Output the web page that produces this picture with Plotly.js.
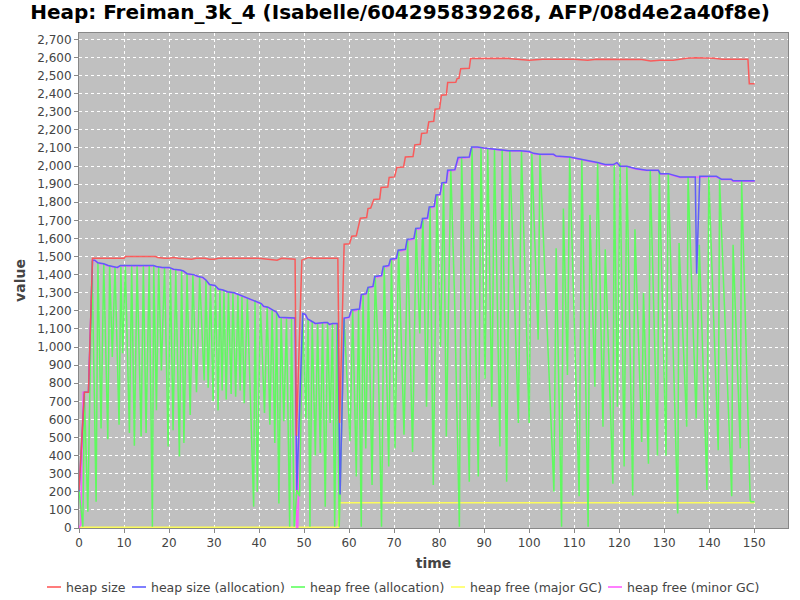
<!DOCTYPE html>
<html>
<head>
<meta charset="utf-8">
<script src="https://cdn.plot.ly/plotly-3.0.1.min.js"></script>
<style>html,body{margin:0;padding:0;background:#fff}#chart{width:800px;height:600px}</style>
</head>
<body>
<div id="chart"></div>
<script>
// ---- data ----
const seriesNames = ["heap size", "heap size (allocation)", "heap free (allocation)", "heap free (major GC)", "heap free (minor GC)"];

const redT = [0, 1.2, 2.1, 3.0, 10, 10.3, 17, 17.5, 19, 20, 21, 22, 25, 26, 28, 29, 30, 31, 32, 40, 42, 44, 45, 48.0, 48.3, 49.5, 50.5, 51, 52, 57.5, 57.9,
  58.9, 60.1, 60.6, 61.6, 62.5, 63.9, 64.2, 64.8, 65.5, 66.8, 67.1, 68.6, 68.9, 70.1, 70.6, 72.1, 72.5, 74.2, 74.6, 75.8, 76.1, 77.3, 77.7, 78.8, 79.1, 80.1, 80.5, 81.6, 81.9, 83.7, 84.0, 84.4, 84.8, 86.7, 87.0,
  95, 97, 100, 103, 110, 113, 115, 125, 127, 129, 132, 135, 137, 141, 143, 148.6, 148.9, 150.1];
const redV = [210, 750, 750, 1490, 1490, 1500, 1500, 1495, 1490, 1490, 1495, 1490, 1485, 1490, 1490, 1485, 1485, 1490, 1490, 1490, 1485, 1480, 1490, 1485, 510, 1480, 1490, 1495, 1490, 1490, 580,
  1568, 1570, 1612, 1615, 1712, 1715, 1765, 1768, 1815, 1818, 1881, 1884, 1937, 1940, 1992, 1995, 2050, 2053, 2117, 2120, 2180, 2183, 2244, 2247, 2314, 2317, 2391, 2394, 2461, 2463, 2483, 2485, 2538, 2540, 2594,
  2595, 2590, 2585, 2590, 2590, 2585, 2590, 2588, 2580, 2585, 2585, 2595, 2598, 2595, 2590, 2590, 2455, 2455];

const blueT = [0, 1.2, 2.1, 3.0, 3.5, 4.2, 5.5, 6.5, 7.5, 8.5, 9.2, 16.5, 17.2, 18.5, 20, 21, 22.5, 23.2, 24, 25.5, 26.5, 27.5, 28.2, 29, 30.2, 31, 32, 33, 34.5, 35.5, 36.5, 37.5, 38.5, 39.5, 40.5, 41, 42, 43, 43.8, 44.5, 48.0, 48.4, 49.7, 50.3, 50.8, 51.5, 52.5, 54.5, 55.2, 55.6, 56.3, 57.5, 58.0,
  58.9, 60.0, 60.5, 62.3, 62.7, 63.8, 64.2, 65.3, 65.7, 67.2, 67.6, 68.8, 69.2, 70.5, 70.9, 72.5, 72.9, 74.4, 74.8, 75.9, 76.3, 77.4, 77.8, 78.9, 79.3, 80.2, 80.6, 81.6, 81.9, 83.5, 84.2, 86.7, 87.2,
  88.5, 90, 91.5, 93, 95.5, 98, 100, 101, 102.4, 105.4, 106, 109, 111.7, 113.5, 115.2, 116.9, 118.7, 119.5, 120.2, 121.7, 123.6, 126.1, 128.7, 129.1, 130.9, 133.5, 136.9, 137.2, 137.9, 138.3, 141.6, 142.7, 144.9, 145.3, 150.1];
const blueV = [200, 750, 750, 1480, 1480, 1465, 1460, 1450, 1445, 1440, 1450, 1450, 1445, 1440, 1440, 1430, 1425, 1420, 1405, 1400, 1390, 1385, 1370, 1345, 1340, 1320, 1315, 1305, 1300, 1290, 1280, 1270, 1260, 1250, 1240, 1225, 1220, 1205, 1195, 1165, 1160, 210, 1185, 1180, 1155, 1145, 1130, 1135, 1135, 1125, 1130, 1130, 185,
  1160, 1165, 1205, 1210, 1290, 1295, 1330, 1335, 1390, 1395, 1445, 1450, 1485, 1490, 1535, 1540, 1595, 1600, 1655, 1658, 1710, 1713, 1774, 1777, 1840, 1843, 1907, 1910, 1977, 1980, 2047, 2050, 2105,
  2105, 2100, 2095, 2090, 2085, 2085, 2080, 2070, 2065, 2065, 2055, 2050, 2036, 2030, 2019, 2008, 2008, 2019, 1999, 1999, 1986, 1977, 1977, 1958, 1958, 1939, 1939, 1405, 1943, 1943, 1943, 1927, 1927, 1918, 1918];

const greenT = [0, 0.85, 1.2, 1.96, 2.9, 3.8, 4.2, 4.9, 5.5, 6.4, 6.8, 7.4, 8.0, 8.9, 9.3, 9.7, 10.3, 11.2, 11.7, 12.3, 12.9, 13.8, 14.3, 14.9, 15.6, 16.3, 16.6, 17.2, 17.7, 18.3, 19.0, 19.8, 20.3, 20.9, 21.5, 22.3, 22.8, 23.3, 24.0, 24.7, 25.3, 26.1, 26.8, 27.8, 28.2, 28.7, 29.2, 29.8, 30.3, 30.9, 31.3, 31.8, 32.2, 32.7, 33.2, 33.8, 34.2, 34.8, 35.3, 35.8, 36.2, 36.7, 37.4, 38.8, 39.1, 39.6, 40.3, 41.2, 41.8, 42.4, 42.9, 43.5, 43.9, 44.4, 44.9, 45.5, 46.1, 46.8, 47.2, 47.8, 48.4, 49.0, 49.7, 50.4, 50.9, 51.3, 51.8, 52.5, 53.0, 53.6, 54.1, 54.7, 55.2, 55.8, 56.3, 56.8, 57.3, 57.8, 58.0, 58.9, 60.2, 60.8, 61.6, 62.1, 62.7, 63.1, 63.7, 64.3, 65.1, 65.8, 66.4, 67.2, 67.8, 68.8, 69.4, 70.2, 71.0, 72.2, 73.0, 74.1, 74.9, 75.7, 76.4, 77.2, 78.0, 78.7, 79.5, 80.3, 81.0, 81.6, 82.6, 83.4, 84.5, 85.0, 86.7, 87.3, 88.7, 89.3, 90.2, 90.8, 91.7, 92.3, 93.5, 94.0, 95.0, 95.7, 97.6, 98.3, 100.0, 100.6, 102.0, 102.4, 105.5, 106.0, 107.2, 107.6, 108.5, 109.0, 111.1, 111.7, 113.1, 113.5, 114.6, 115.2, 116.4, 116.9, 118.6, 118.9, 119.6, 120.2, 121.1, 121.7, 123.0, 123.5, 125.0, 125.4, 126.5, 126.9, 128.5, 128.9, 130.4, 130.9, 133.0, 133.3, 135.0, 135.3, 137.1, 137.8, 139.5, 139.9, 142.0, 142.3, 145.0, 145.3, 146.9, 147.2, 149.1, 149.3, 150.1];
const greenV = [210, 7, 740, 90, 1475, 145, 1465, 550, 1458, 490, 1450, 945, 1440, 570, 1445, 965, 1448, 525, 1448, 455, 1448, 505, 1448, 525, 1448, 7, 1448, 650, 1442, 870, 1438, 450, 1435, 540, 1428, 395, 1422, 470, 1405, 625, 1398, 750, 1388, 815, 1368, 775, 1343, 700, 1335, 650, 1318, 760, 1312, 710, 1303, 740, 1298, 725, 1288, 760, 1278, 690, 1268, 118, 1255, 200, 1238, 635, 1222, 570, 1210, 470, 1192, 135, 1162, 590, 1158, 7, 1158, 7, 210, 175, 1182, 605, 1152, 7, 1140, 400, 1130, 415, 1132, 118, 1132, 580, 1127, 7, 1128, 7, 180, 1158, 480, 1203, 285, 1208, 7, 1292, 440, 1332, 237, 1390, 1020, 7, 1445, 340, 1485, 440, 1537, 515, 1595, 420, 1655, 1075, 1710, 670, 1774, 237, 1840, 1000, 1907, 505, 1977, 1300, 7, 2047, 255, 2105, 285, 2100, 825, 2095, 670, 2090, 450, 2088, 255, 2085, 580, 2082, 580, 2068, 1040, 2063, 200, 1545, 7, 1765, 845, 2050, 175, 2036, 7, 1730, 780, 2019, 560, 1540, 245, 2008, 670, 2015, 340, 1999, 180, 1650, 475, 1300, 355, 1977, 400, 1975, 400, 1958, 80, 1575, 560, 1939, 605, 1565, 210, 1943, 430, 1927, 175, 1565, 440, 1918, 155, 145, 145];

const yellowT = [0, 57.6, 57.9, 150.1];
const yellowV = [4, 4, 140, 140];

const magentaT = [0, 0.4, 0.9, 2.1, 3.0, 3.5, 4.2, 5.5, 6.5, 7.5, 8.5, 9.2, 16.5, 17.2, 18.5, 20, 21, 22.5, 23.2, 24, 25.5, 26.5, 27.5, 28.2, 29, 30.2, 31, 32, 33, 34.5, 35.5, 36.5, 37.5, 38.5, 39.5, 40.5, 41, 42, 43, 43.8, 44.5, 48.0, 48.35, 48.6, 49.7, 50.3, 50.8, 51.5, 52.5, 54.5, 55.2, 55.6, 56.3, 57.5, 58.0,
  58.9, 60.0, 60.6, 62.3, 62.8, 63.8, 64.3, 65.3, 65.8, 67.2, 67.7, 68.8, 69.3, 70.5, 71.0, 72.5, 73.0, 74.4, 74.9, 75.9, 76.4, 77.4, 77.9, 78.9, 79.4, 80.2, 80.7, 81.6, 82.0, 83.5, 84.3, 86.7, 87.3,
  88.5, 90, 91.5, 93, 95.5, 98, 100, 101, 102.4, 105.4, 106, 109, 111.7, 113.5, 115.2, 116.9, 118.7, 119.5, 120.2, 121.7, 123.6, 126.1, 128.7, 129.1, 130.9, 133.5, 136.9, 138.3, 141.6, 142.7, 144.9, 145.3, 150.1];
const magentaV = [0, 20, 750, 750, 1478, 1478, 1463, 1458, 1448, 1443, 1438, 1448, 1448, 1443, 1438, 1438, 1428, 1423, 1418, 1403, 1398, 1388, 1383, 1368, 1343, 1338, 1318, 1313, 1303, 1298, 1288, 1278, 1268, 1258, 1248, 1238, 1223, 1218, 1203, 1193, 1163, 1158, 0, 0, 1183, 1178, 1153, 1143, 1128, 1133, 1133, 1123, 1128, 1128, 183,
  1158, 1163, 1195, 1208, 1285, 1293, 1325, 1333, 1383, 1393, 1438, 1448, 1478, 1488, 1528, 1538, 1588, 1598, 1648, 1656, 1703, 1711, 1767, 1775, 1833, 1841, 1900, 1908, 1970, 1978, 2040, 2048, 2103,
  2103, 2098, 2093, 2088, 2083, 2083, 2078, 2068, 2063, 2063, 2053, 2048, 2034, 2028, 2017, 2006, 2006, 2017, 1997, 1997, 1984, 1975, 1975, 1956, 1956, 1937, 1937, 1941, 1941, 1925, 1925, 1916, 1916];

const xTickStep = 10;
const yTickStep = 100;

// ---- chart ----
const colors = ["rgba(255,80,80,0.9)", "rgba(85,85,255,0.9)", "rgba(85,255,85,0.9)", "rgba(255,255,85,0.95)", "rgba(255,85,255,0.9)"];
function tr(x, y, i) {
  return {x: x, y: y, type: "scatter", mode: "lines", name: seriesNames[i], showlegend: false,
          line: {color: colors[i], width: 1.5}, hoverinfo: "skip"};
}
// draw order: yellow, magenta, green, blue, red (red on top)
const traces = [
  tr(yellowT, yellowV, 3),
  tr(magentaT, magentaV, 4),
  tr(greenT, greenV, 2),
  tr(blueT, blueV, 1),
  tr(redT, redV, 0)
];

// manual legend (pixel layout of the reference legend row)
const plotL = 79, plotW = 709, plotB = 528, plotH = 495;
const legendSymX = [47, 132, 291, 451, 608];
const legendY = 587;
const shapes = [], annotations = [];
const legendColors = ["rgb(255,80,80)", "rgb(85,85,255)", "rgb(85,255,85)", "rgb(255,255,85)", "rgb(255,85,255)"];
for (let i = 0; i < seriesNames.length; i++) {
  const x0 = (legendSymX[i] - plotL) / plotW, x1 = (legendSymX[i] + 14 - plotL) / plotW;
  const y = (plotB - legendY) / plotH;
  shapes.push({type: "line", xref: "paper", yref: "paper", x0: x0, x1: x1, y0: y, y1: y,
               line: {color: legendColors[i], width: 1.5}});
  annotations.push({xref: "paper", yref: "paper", x: (legendSymX[i] + 17 - plotL) / plotW, y: y,
                    xanchor: "left", yanchor: "middle", showarrow: false, text: seriesNames[i],
                    font: {family: "DejaVu Sans", size: 12.5, color: "#444444"}});
}

const axisCommon = {
  showgrid: true, gridcolor: "#ffffff", gridwidth: 1, griddash: "3px,3px",
  zeroline: false, showline: true, linecolor: "#888888", linewidth: 1, mirror: true,
  ticks: "outside", ticklen: 4, tickcolor: "#888888",
  tickfont: {family: "DejaVu Sans", size: 12, color: "#444444"}
};

const layout = {
  width: 800, height: 600,
  paper_bgcolor: "#ffffff", plot_bgcolor: "#c0c0c0",
  margin: {l: 79, r: 12, t: 33, b: 72},
  title: {text: "Heap: Freiman_3k_4 (Isabelle/604295839268, AFP/08d4e2a40f8e)",
          font: {family: "DejaVu Sans", size: 20, color: "#000000", weight: "bold"},
          x: 0.5, xanchor: "center", y: 0.98, yanchor: "middle", yref: "container"},
  xaxis: Object.assign({}, axisCommon, {
    range: [0, 157.5], dtick: xTickStep, tick0: 0,
    title: {text: "time", font: {family: "DejaVu Sans", size: 14, color: "#444444", weight: "bold"}, standoff: 8}
  }),
  yaxis: Object.assign({}, axisCommon, {
    range: [0, 2735], dtick: yTickStep, tick0: 0, tickformat: ",d",
    title: {text: "value", font: {family: "DejaVu Sans", size: 14, color: "#444444", weight: "bold"}, standoff: 8}
  }),
  shapes: shapes,
  annotations: annotations,
  showlegend: false,
  hovermode: false
};

Plotly.newPlot("chart", traces, layout, {displayModeBar: false, staticPlot: true});
</script>
</body>
</html>
